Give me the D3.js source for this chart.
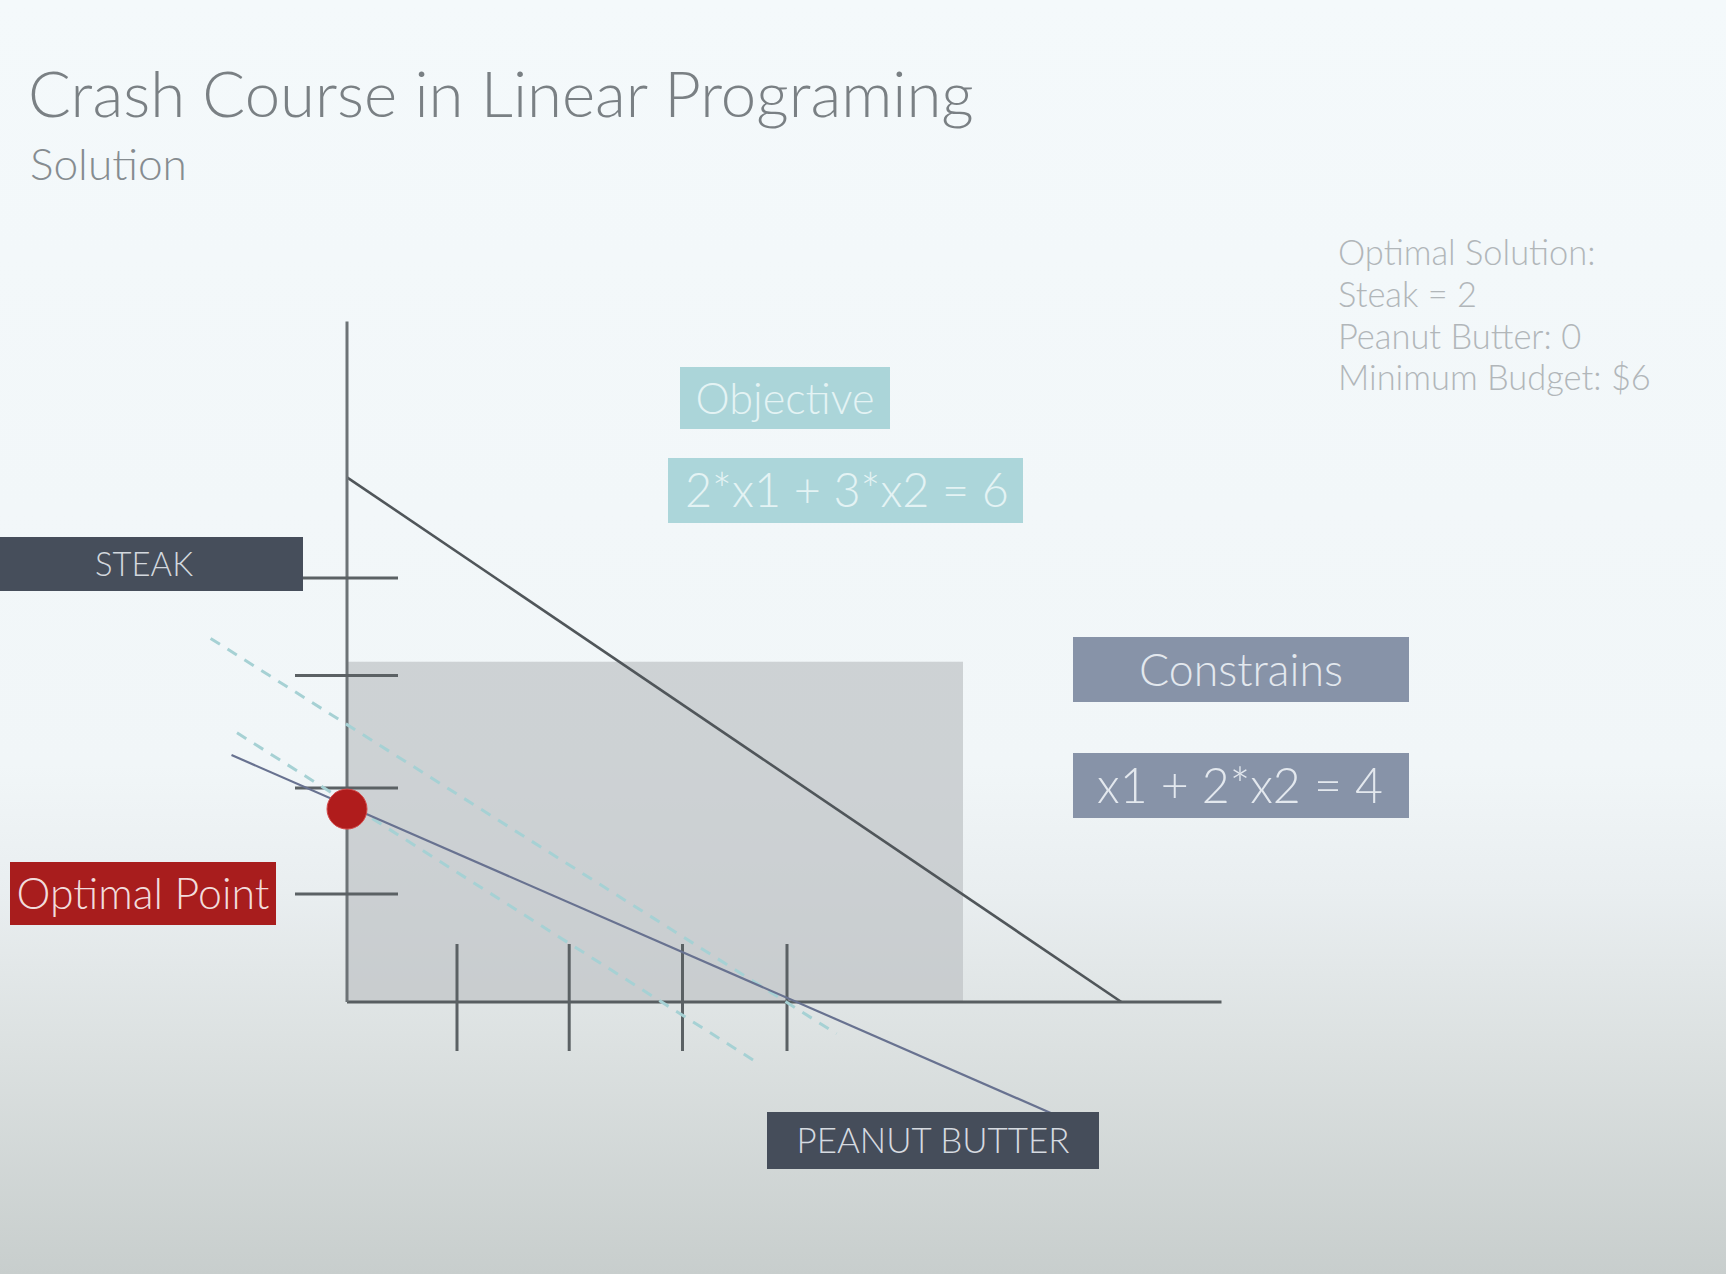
<!DOCTYPE html>
<html>
<head>
<meta charset="utf-8">
<script src="https://cdn.jsdelivr.net/npm/d3@7"></script>
<style>
  body { margin: 0; background: #f3f8fa; }
  text { font-family: Lato, "Open Sans", sans-serif; }
</style>
</head>
<body>
<div id="slide"></div>
<script>
var svgWidth = 1726;
var svgHeight = 1274;

// values, in units of the hand drawn axes
var xTicks = [1, 2.02, 3.05, 4.0];
var yTicks = [1.02, 2.02, 3.08, 4.0];
var xAxisEnd = 7.95;
var yAxisEnd = 6.42;
var feasibleBox = [0, 5.6, 0, 3.21];             // x0, x1, y0, y1
var objectiveLine = [[0, 4.95], [7.04, 0]];
var constraintLine = [[-1.05, 2.33], [6.47, -1.08]];
var isoLines = [
    [[-1.24, 3.43], [4.45, -0.30]],
    [[-1.0, 2.54], [3.75, -0.585]]
];
var optimalPoint = [0, 1.82];

var titleText = "Crash Course in Linear Programing";
var subtitleText = "Solution";
var solutionLines = ["Optimal Solution:", "Steak = 2", "Peanut Butter: 0", "Minimum Budget:  $6"];

var svg = d3.select("#slide")
    .append("svg")
    .attr("width", svgWidth)
    .attr("height", svgHeight);

// background, the projected slide gets greyer towards the bottom
var grad = svg.append("defs").append("linearGradient")
    .attr("id", "bg")
    .attr("x1", 0).attr("y1", 0).attr("x2", 0).attr("y2", 1);
[[0, "#f4f9fb"], [0.6, "#f1f6f8"], [0.7, "#e9eef0"], [0.82, "#dce1e1"], [1, "#c8cecd"]].forEach(function (s) {
    grad.append("stop").attr("offset", s[0]).attr("stop-color", s[1]);
});
svg.append("rect")
    .attr("width", svgWidth)
    .attr("height", svgHeight)
    .attr("fill", "url(#bg)");

// scales
var x = d3.scaleLinear().domain([0, 1]).range([347, 457]);
var y = d3.scaleLinear().domain([0, 1]).range([1002, 896]);

var chart = svg.append("g");

// feasible region
chart.append("rect")
    .attr("x", x(feasibleBox[0]))
    .attr("y", y(feasibleBox[3]))
    .attr("width", x(feasibleBox[1]) - x(feasibleBox[0]))
    .attr("height", y(feasibleBox[2]) - y(feasibleBox[3]))
    .attr("fill", "#bfc4c6")
    .attr("opacity", 0.72);

var line = d3.line().x(d => x(d[0])).y(d => y(d[1]));

chart.append("path")
    .attr("d", line(objectiveLine))
    .attr("fill", "none")
    .attr("stroke", "#50565a")
    .attr("stroke-width", 2.6);

// axes
chart.append("path")
    .attr("d", line([[0, 0], [xAxisEnd, 0]]))
    .attr("stroke", "#585e61")
    .attr("stroke-width", 3.2);
chart.append("path")
    .attr("d", line([[0, 0], [0, yAxisEnd]]))
    .attr("stroke", "#6d7376")
    .attr("stroke-width", 3);

// ticks cross the axis on both sides
chart.selectAll(".ytick")
    .data(yTicks)
    .enter()
    .append("line")
    .attr("class", "ytick")
    .attr("x1", x(0) - 52)
    .attr("x2", x(0) + 51)
    .attr("y1", d => y(d))
    .attr("y2", d => y(d))
    .attr("stroke", "#5b6164")
    .attr("stroke-width", 3);

chart.selectAll(".xtick")
    .data(xTicks)
    .enter()
    .append("line")
    .attr("class", "xtick")
    .attr("x1", d => x(d))
    .attr("x2", d => x(d))
    .attr("y1", y(0) - 58)
    .attr("y2", y(0) + 49)
    .attr("stroke", "#5b6164")
    .attr("stroke-width", 3);

// objective lines (dashed)
chart.selectAll(".iso")
    .data(isoLines)
    .enter()
    .append("path")
    .attr("class", "iso")
    .attr("d", line)
    .attr("fill", "none")
    .attr("stroke", "#a6d1d4")
    .attr("stroke-width", 3)
    .attr("stroke-dasharray", "11,9");

// constraint
chart.append("path")
    .attr("d", line(constraintLine))
    .attr("fill", "none")
    .attr("stroke", "#687290")
    .attr("stroke-width", 2.2);

chart.append("circle")
    .attr("cx", x(optimalPoint[0]))
    .attr("cy", y(optimalPoint[1]))
    .attr("r", 20)
    .attr("fill", "#b01c1c")
    .attr("stroke", "#d44a4a")
    .attr("stroke-width", 1);

// fit a text node to a width
function fit(t, w) {
    var fs = parseFloat(t.attr("font-size"));
    var cur = t.node().getComputedTextLength();
    t.attr("font-size", fs * w / cur);
    return fs * w / cur;
}

// coloured label boxes
function labelBox(x0, y0, w, h, fill, txt, color, cx, tw) {
    svg.append("rect")
        .attr("x", x0).attr("y", y0)
        .attr("width", w).attr("height", h)
        .attr("fill", fill);
    var t = svg.append("text")
        .attr("x", cx)
        .attr("text-anchor", "middle")
        .attr("font-size", 36)
        .attr("font-weight", 300)
        .attr("fill", color)
        .text(txt);
    var fs = fit(t, tw);
    t.attr("y", y0 + h / 2 + fs * 0.36);
}

labelBox(-2, 537, 305, 54, "#464e5b", "STEAK", "#d3d8de", 144, 98);
labelBox(10, 862, 266, 63, "#a81d1d", "Optimal Point", "#f1dcdc", 143, 253);
labelBox(767, 1112, 332, 57, "#454d5a", "PEANUT BUTTER", "#d5dae0", 933, 273);
labelBox(680, 367, 210, 62, "#abd5d9", "Objective", "#e4f3f4", 785, 179);
labelBox(668, 458, 355, 65, "#acd6da", "2*x1 + 3*x2 = 6", "#e4f3f4", 847, 324);
labelBox(1073, 637, 336, 65, "#8793a8", "Constrains", "#e3e8ee", 1241, 204);
labelBox(1073, 753, 336, 65, "#8793a8", "x1 + 2*x2 = 4", "#e3e8ee", 1240, 286);

// title
var title = svg.append("text")
    .attr("x", 28).attr("y", 117)
    .attr("font-size", 66)
    .attr("font-weight", 300)
    .attr("fill", "#7a8084")
    .text(titleText);
fit(title, 946);

var sub = svg.append("text")
    .attr("x", 30).attr("y", 180)
    .attr("font-size", 44)
    .attr("font-weight", 300)
    .attr("fill", "#868c90")
    .text(subtitleText);
fit(sub, 157);

// answer block top right
var baselines = [265, 307, 349, 390];
var block = svg.selectAll(".sol")
    .data(solutionLines)
    .enter()
    .append("text")
    .attr("class", "sol")
    .attr("x", 1338)
    .attr("y", (d, i) => baselines[i])
    .attr("font-size", 30)
    .attr("font-weight", 300)
    .attr("fill", "#b1b6b9")
    .text(d => d);
var longest = block.filter((d, i) => i == 3);
var fs = fit(longest, 313);
block.attr("font-size", fs);
</script>
</body>
</html>
